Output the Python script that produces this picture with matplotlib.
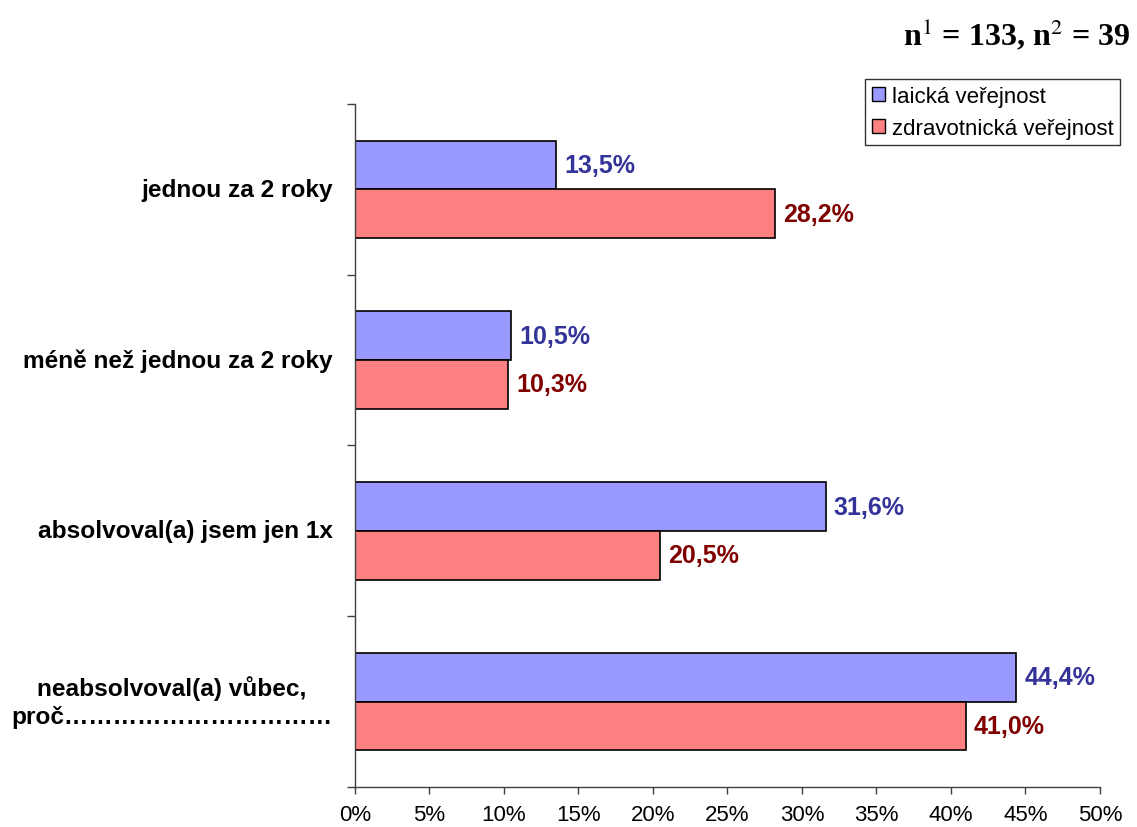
import matplotlib
matplotlib.use("Agg")
import matplotlib.pyplot as plt
from matplotlib.patches import Patch
import matplotlib.transforms as mtransforms

categories = ["jednou za 2 roky", "méně než jednou za 2 roky",
              "absolvoval(a) jsem jen 1x",
              "neabsolvoval(a) vůbec,\nproč" + "\u2026" * 11]
laicka = [13.5, 10.5, 31.6, 44.4]
zdrav = [28.2, 10.3, 20.5, 41.0]
series_names = ["laická veřejnost", "zdravotnická veřejnost"]
xticks = [0, 5, 10, 15, 20, 25, 30, 35, 40, 45, 50]

blue = "#9999FF"
red = "#FF8080"
blue_txt = "#333399"
red_txt = "#800000"

plt.rcParams['font.family'] = ['Liberation Sans', 'DejaVu Sans']

fig = plt.figure(figsize=(11.37, 8.28), dpi=100)
ax = fig.add_axes([0.3122, 0.0483, 0.6552, 0.8249])

h = 0.285
ypos = list(range(len(categories)))
yb = [y - h / 2 for y in ypos]
yr = [y + h / 2 for y in ypos]
ax.barh(yb, laicka, height=h, color=blue, edgecolor="black", linewidth=1.2)
ax.barh(yr, zdrav, height=h, color=red, edgecolor="black", linewidth=1.2)

off = mtransforms.offset_copy(ax.transData, fig=fig, x=8, y=0, units='dots')
for y, v in zip(yb, laicka):
    ax.text(v, y, f"{v:.1f}%".replace(".", ","), transform=off, ha="left", va="center",
            color=blue_txt, fontsize=18, fontweight="bold")
for y, v in zip(yr, zdrav):
    ax.text(v, y, f"{v:.1f}%".replace(".", ","), transform=off, ha="left", va="center",
            color=red_txt, fontsize=18, fontweight="bold")

ax.set_xlim(0, 50)
ax.set_ylim(len(categories) - 0.5, -0.5)
ax.set_xticks(xticks)
ax.set_xticklabels([f"{t}%" for t in xticks], fontsize=16)
ax.set_yticks([i - 0.5 for i in range(len(categories) + 1)])
ax.set_yticklabels([])
ax.tick_params(axis='y', length=6, width=1, direction='out', color='#404040')
ax.tick_params(axis='x', length=5, width=1, direction='out', color='#404040', pad=7)

trans = mtransforms.blended_transform_factory(ax.transAxes, ax.transData)
for y, c in zip(ypos, categories):
    ax.text(-0.03, y, c, transform=trans, ha="right", va="center",
            multialignment="center", fontsize=17.6, fontweight="bold", linespacing=1.3)

for s in ["top", "right"]:
    ax.spines[s].set_visible(False)
for s in ["left", "bottom"]:
    ax.spines[s].set_color('#404040')
    ax.spines[s].set_linewidth(1)

handles = [Patch(facecolor=blue, edgecolor="black", label=series_names[0]),
           Patch(facecolor=red, edgecolor="black", label=series_names[1])]
leg = fig.legend(handles=handles, loc="upper right", bbox_to_anchor=(1120 / 1137, 1 - 80 / 828),
                 fontsize=16, frameon=True, fancybox=False, edgecolor="black",
                 handlelength=0.6, handleheight=0.6, handletextpad=0.3,
                 borderpad=0.3, labelspacing=0.5, borderaxespad=0)
leg.get_frame().set_linewidth(1)

fig.text(1130 / 1137, 1 - 35 / 828, r"n$^{1}$ = 133, n$^{2}$ = 39",
         ha="right", va="center", fontsize=23, fontweight="bold",
         family=["Liberation Serif"], math_fontfamily="stix")

fig.savefig("out.png", dpi=100)
